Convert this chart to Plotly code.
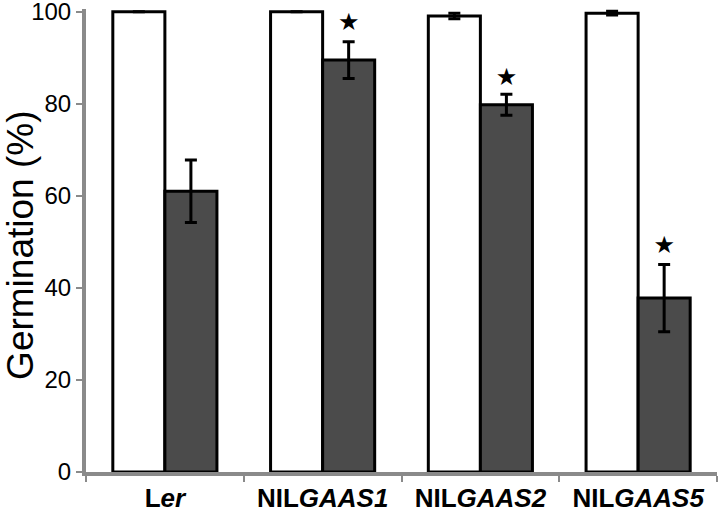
import plotly.graph_objects as go

categories = ["Ler", "NILGAAS1", "NILGAAS2", "NILGAAS5"]
tick_labels = ["L<i>er</i>", "NIL<i>GAAS1</i>", "NIL<i>GAAS2</i>", "NIL<i>GAAS5</i>"]
control_values = [100, 100, 99.1, 99.7]
control_errors = [0, 0, 0.6, 0.4]
treated_values = [61.0, 89.5, 79.8, 37.8]
treated_errors = [6.8, 4.0, 2.3, 7.3]
star_flags = [False, True, True, True]
star_values = [None, 97.4, 85.5, 48.8]

BARGAP = 0.34
GRAY = "#8a8a8a"
FONT = "Liberation Sans, Arial, Helvetica, sans-serif"

fig = go.Figure()
fig.add_trace(go.Bar(
    x=categories, y=control_values, name="control",
    marker=dict(color="white", line=dict(color="black", width=3)),
    error_y=dict(type="data", array=control_errors, color="black", thickness=3, width=6),
))
fig.add_trace(go.Bar(
    x=categories, y=treated_values, name="treated",
    marker=dict(color="#4b4b4b", line=dict(color="black", width=3)),
    error_y=dict(type="data", array=treated_errors, color="black", thickness=3, width=6),
))

# stars above treated bars, on an overlay numeric axis aligned with categories
half_bar = (1 - BARGAP) / 4
sx, sy = [], []
for i, (flag, v) in enumerate(zip(star_flags, star_values)):
    if flag:
        sx.append(i + half_bar)
        sy.append(v)
fig.add_trace(go.Scatter(
    x=sx, y=sy, xaxis="x2", mode="text", text=["★"] * len(sx),
    textposition="middle center",
    textfont=dict(family="DejaVu Sans", size=24, color="black"),
    hoverinfo="skip",
))

fig.update_layout(
    width=720, height=514,
    margin=dict(l=86, r=3, t=9, b=42, autoexpand=False),
    paper_bgcolor="white", plot_bgcolor="white",
    barmode="group", bargap=BARGAP, bargroupgap=0,
    showlegend=False,
    font=dict(family=FONT, color="black"),
    xaxis=dict(
        type="category", range=[-0.5, 3.5], automargin=False,
        tickmode="array", tickvals=categories, ticktext=tick_labels,
        tickson="boundaries", ticks="outside", ticklen=6, tickwidth=1.5, tickcolor=GRAY,
        showline=True, linecolor=GRAY, linewidth=4,
        showgrid=False, zeroline=False,
        ticklabeloverflow="allow",
        tickfont=dict(family=FONT, size=26, color="black", weight="bold"),
    ),
    xaxis2=dict(overlaying="x", range=[-0.5, 3.5], visible=False, automargin=False),
    yaxis=dict(
        range=[0, 100.6], tickvals=[0, 20, 40, 60, 80, 100], automargin=False,
        ticks="outside", ticklen=6, tickwidth=1.5, tickcolor=GRAY,
        showline=True, linecolor=GRAY, linewidth=4,
        showgrid=False, zeroline=False,
        ticklabeloverflow="allow",
        tickfont=dict(family=FONT, size=24, color="black"),
    ),
    annotations=[dict(
        text="Germination (%)", xref="paper", yref="paper",
        x=-0.105, y=0.49, xanchor="center", yanchor="middle",
        textangle=-90, showarrow=False,
        font=dict(family=FONT, size=37, color="black"),
    )],
)

fig.write_html(
    "out.html",
    config={"displayModeBar": False},
    post_script="document.body.style.margin='0';document.body.style.padding='0';",
)
